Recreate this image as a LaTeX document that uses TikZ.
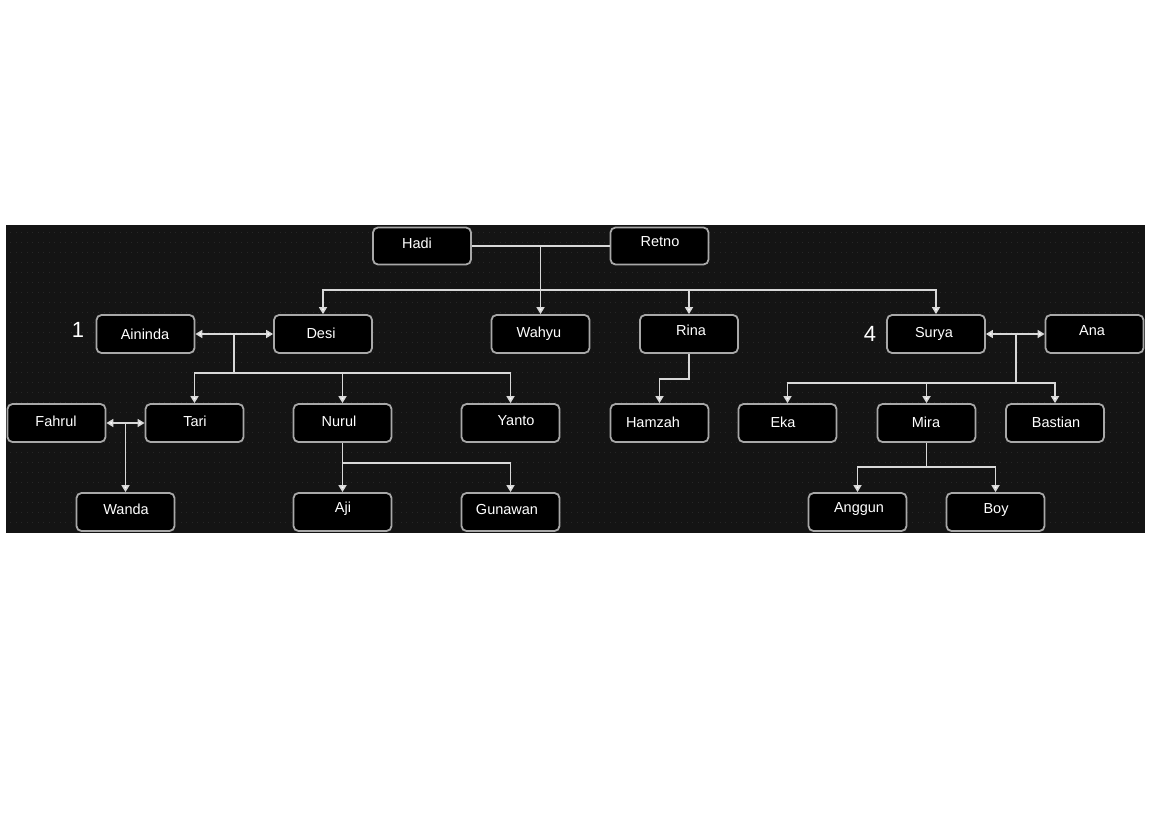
\documentclass[tikz,border=0pt]{standalone}
\usepackage{fontspec}
\setmainfont{Liberation Sans}
\usetikzlibrary{arrows.meta,calc}
\definecolor{bandbg}{HTML}{141414}
\definecolor{dotc}{HTML}{272727}
\definecolor{boxedge}{HTML}{A8A8A8}
\definecolor{linec}{HTML}{D8D8D8}
\tikzset{
  person/.style={draw=boxedge, line width=1.8pt, fill=black, rounded corners=5pt,
    minimum width=98pt, minimum height=38pt, inner sep=0pt},
  toprow/.style={person, minimum height=37pt},
  txt/.style={text=white, font=\fontsize{14.5}{16}\selectfont, inner sep=0pt},
  bignum/.style={text=white, font=\fontsize{22}{24}\selectfont, inner sep=0pt},
  conn/.style={draw=linec, line width=1.6pt},
  arr/.style={conn, -{Triangle[width=8pt,length=7pt,fill=white]}},
  darr/.style={conn, {Triangle[width=8pt,length=7pt,fill=white]}-{Triangle[width=8pt,length=7pt,fill=white]}},
}
\begin{document}
\begin{tikzpicture}[x=1pt,y=-1pt]
\useasboundingbox (0,0) rectangle (1150,831);
\fill[white] (0,0) rectangle (1150,831);
\fill[bandbg] (6,225) rectangle (1145,533);
\foreach \yy in {232,242,...,528} {
  \draw[dotc, line width=1pt, dash pattern=on 1pt off 4.5pt] (10,\yy) -- (1142,\yy);
}
% boxes
\node[toprow] (hadi) at (422,246) {};
\node[toprow] (retno) at (659.5,246) {};
\node[person] (aininda) at (145.5,334) {};
\node[person] (desi) at (323,334) {};
\node[person] (wahyu) at (540.5,334) {};
\node[person] (rina) at (689,334) {};
\node[person] (surya) at (936,334) {};
\node[person] (ana) at (1094.5,334) {};
\node[person] (fahrul) at (56.5,423) {};
\node[person] (tari) at (194.5,423) {};
\node[person] (nurul) at (342.5,423) {};
\node[person] (yanto) at (510.5,423) {};
\node[person] (hamzah) at (659.5,423) {};
\node[person] (eka) at (787.5,423) {};
\node[person] (mira) at (926.5,423) {};
\node[person] (bastian) at (1055,423) {};
\node[person] (wanda) at (125.5,512) {};
\node[person] (aji) at (342.5,512) {};
\node[person] (gunawan) at (510.5,512) {};
\node[person] (anggun) at (857.5,512) {};
\node[person] (boy) at (995.5,512) {};
% texts
\node[txt] (t-hadi) at (417,243) {Hadi};
\node[txt] (t-retno) at (660,242) {Retno};
\node[txt] (t-aininda) at (145,334) {Aininda};
\node[txt] (t-desi) at (321,333) {Desi};
\node[txt] (t-wahyu) at (539,334) {Wahyu};
\node[txt] (t-rina) at (691,330) {Rina};
\node[txt] (t-surya) at (934,334) {Surya};
\node[txt] (t-ana) at (1092,331) {Ana};
\node[txt] (t-fahrul) at (56,421) {Fahrul};
\node[txt] (t-tari) at (195,421) {Tari};
\node[txt] (t-nurul) at (339,421) {Nurul};
\node[txt] (t-yanto) at (516,421) {Yanto};
\node[txt] (t-hamzah) at (653,422) {Hamzah};
\node[txt] (t-eka) at (783,422) {Eka};
\node[txt] (t-mira) at (926,422) {Mira};
\node[txt] (t-bastian) at (1056,422) {Bastian};
\node[txt] (t-wanda) at (126,509) {Wanda};
\node[txt] (t-aji) at (343,509) {Aji};
\node[txt] (t-gunawan) at (507,509) {Gunawan};
\node[txt] (t-anggun) at (859,509) {Anggun};
\node[txt] (t-boy) at (996,510) {Boy};
\node[bignum] (n1) at (78,330) {1};
\node[bignum] (n4) at (870,334) {4};
% connectors: Hadi & Retno
\coordinate (hr) at (540.5,246);
\coordinate (bar1) at (540.5,290);
\draw[conn] (hadi.east) -- (retno.west);
\draw[arr] (hr) -- (wahyu.north);
\draw[arr] (bar1) -| (desi.north);
\draw[arr] (bar1) -| (surya.north);
\draw[arr] (rina.north |- bar1) -- (rina.north);
% Aininda & Desi
\coordinate (ad) at (234,334);
\coordinate (adbar) at (234,373);
\draw[darr] (aininda.east) -- (desi.west);
\draw[conn] (ad) -- (adbar);
\draw[arr] (adbar) -| (tari.north);
\draw[arr] (adbar) -| (yanto.north);
\draw[arr] (nurul.north |- adbar) -- (nurul.north);
% Fahrul & Tari
\coordinate (ft) at (125.5,423);
\draw[darr] (fahrul.east) -- (tari.west);
\draw[arr] (ft) -- (wanda.north);
% Nurul
\coordinate (nbar) at (342.5,463);
\draw[conn] (nurul.south) -- (nbar);
\draw[arr] (nbar) -- (aji.north);
\draw[arr] (nbar) -| (gunawan.north);
% Rina
\draw[arr] (rina.south) -- ++(0,25) -| (hamzah.north);
% Surya & Ana
\coordinate (sa) at (1016,334);
\coordinate (sabar) at (1016,383);
\draw[darr] (surya.east) -- (ana.west);
\draw[conn] (sa) -- (sabar);
\draw[arr] (sabar) -| (eka.north);
\draw[arr] (sabar) -| (bastian.north);
\draw[arr] (mira.north |- sabar) -- (mira.north);
% Mira
\coordinate (mbar) at (926.5,467);
\draw[conn] (mira.south) -- (mbar);
\draw[arr] (mbar) -| (anggun.north);
\draw[arr] (mbar) -| (boy.north);
\end{tikzpicture}
\end{document}
